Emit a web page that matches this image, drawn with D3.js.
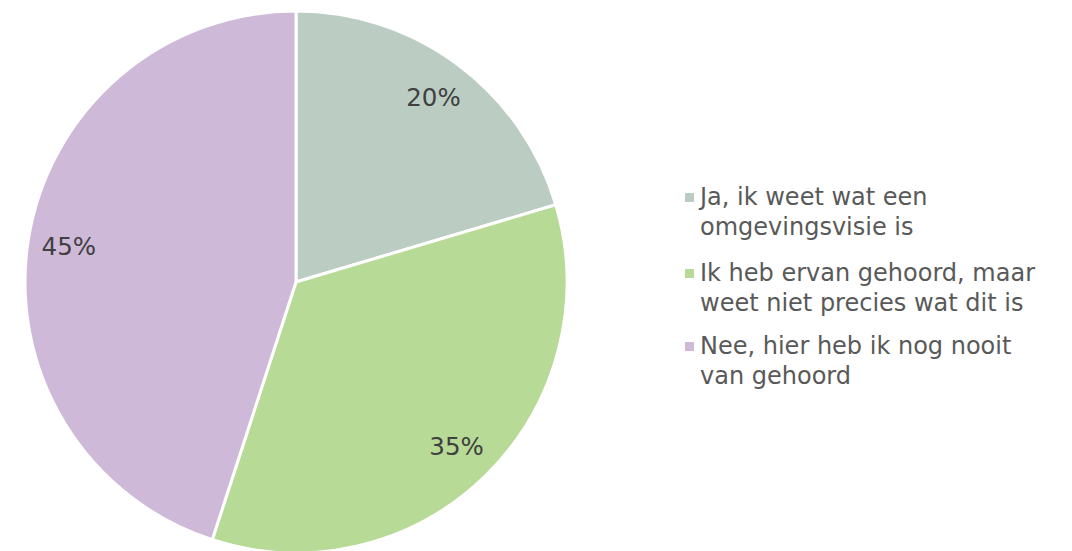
<!DOCTYPE html>
<html><head><meta charset="utf-8">
<script src="https://cdn.jsdelivr.net/npm/d3@7"></script>
<style>body{margin:0;background:#fff}svg{display:block}</style>
</head><body>
<script>
const categories = ["Ja, ik weet wat een omgevingsvisie is", "Ik heb ervan gehoord, maar weet niet precies wat dit is", "Nee, hier heb ik nog nooit van gehoord"];
const legendLines = [["Ja, ik weet wat een", "omgevingsvisie is"], ["Ik heb ervan gehoord, maar", "weet niet precies wat dit is"], ["Nee, hier heb ik nog nooit", "van gehoord"]];
const values = [20.4, 34.6, 45.0];
const colors = ["#bbcdc3", "#b8da97", "#cfb9d9"];

const W = 1072, H = 551;
const svg = d3.select("body").append("svg").attr("width", W).attr("height", H);
const cx = 296, cy = 282, r = 271;
const pie = d3.pie().sort(null).value(d => d)(values);
const arc = d3.arc().innerRadius(0).outerRadius(r);
const labelArc = d3.arc().innerRadius(230).outerRadius(230);
const g = svg.append("g").attr("transform", `translate(${cx},${cy})`);
g.selectAll("path").data(pie).join("path")
  .attr("d", arc).attr("fill", (d, i) => colors[i])
  .attr("stroke", "#fff").attr("stroke-width", 3).attr("stroke-linejoin", "round");
g.selectAll("text").data(pie).join("text")
  .attr("transform", d => `translate(${labelArc.centroid(d)})`)
  .attr("text-anchor", "middle").attr("dy", "0.36em")
  .attr("font-family", "DejaVu Sans, Verdana, sans-serif").attr("font-size", 24.5)
  .attr("fill", "#404040")
  .text(d => Math.round(d.data) + "%");

const lg = svg.append("g");
const itemY = [205, 281, 354];
legendLines.forEach((lines, i) => {
  lg.append("rect").attr("x", 685).attr("y", itemY[i] - 12).attr("width", 9).attr("height", 9).attr("fill", colors[i]);
  const t = lg.append("text").attr("x", 700).attr("y", itemY[i])
    .attr("font-family", "DejaVu Sans, Verdana, sans-serif").attr("font-size", 24).attr("fill", "#595959");
  lines.forEach((l, j) => t.append("tspan").attr("x", 700).attr("dy", j ? 30 : 0).text(l));
});
</script>
</body></html>
